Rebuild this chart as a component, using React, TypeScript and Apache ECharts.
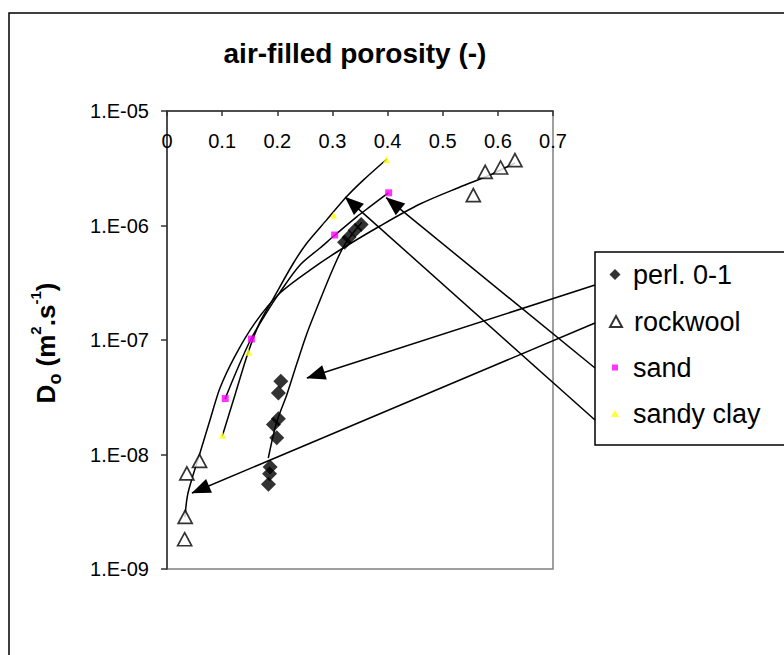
import React, { useEffect, useRef } from 'react';
import * as echarts from 'echarts';

const FONT = '"Liberation Sans", Arial, Helvetica, sans-serif';

const seriesNames = ['perl. 0-1', 'rockwool', 'sand', 'sandy clay'];
const xTickLabels = ['0', '0.1', '0.2', '0.3', '0.4', '0.5', '0.6', '0.7'];
const yTickLabels = ['1.E-09', '1.E-08', '1.E-07', '1.E-06', '1.E-05'];

// measured points [air-filled porosity, Do]
const perlPoints: [number, number][] = [
  [0.352, 1.02e-6], [0.341, 9.1e-7], [0.33, 7.9e-7], [0.322, 7.15e-7],
  [0.2064, 4.36e-8], [0.202, 3.45e-8], [0.202, 2.05e-8], [0.193, 1.83e-8],
  [0.199, 1.4e-8], [0.187, 7.76e-9], [0.186, 6.8e-9], [0.184, 5.5e-9],
];
const rockwoolPoints: [number, number][] = [
  [0.059, 8.8e-9], [0.036, 6.85e-9], [0.033, 2.85e-9], [0.032, 1.82e-9],
  [0.5555, 1.84e-6], [0.577, 2.94e-6], [0.605, 3.21e-6], [0.631, 3.72e-6],
];
const sandPoints: [number, number][] = [
  [0.1056, 3.08e-8], [0.153, 1.02e-7], [0.304, 8.26e-7], [0.402, 1.93e-6],
];
const sandyClayPoints: [number, number][] = [
  [0.1007, 1.47e-8], [0.148, 7.8e-8], [0.302, 1.23e-6], [0.398, 3.77e-6],
];

// fitted curves
const perlCurve: [number, number][] = [
  [0.1837, 9.31e-9], [0.1989, 1.92e-8], [0.2171, 3.31e-8], [0.2352, 6.17e-8],
  [0.2534, 1.13e-7], [0.2775, 2.23e-7], [0.3016, 4.26e-7], [0.3228, 6.89e-7],
  [0.3536, 1.07e-6],
];
const rockwoolCurve: [number, number][] = [
  [0.0326, 2.84e-9], [0.0381, 4.61e-9], [0.0598, 1.03e-8], [0.078, 2.0e-8],
  [0.0961, 3.81e-8], [0.1233, 7.24e-8], [0.1596, 1.41e-7], [0.2049, 2.57e-7],
  [0.2593, 4.08e-7], [0.3137, 6.11e-7], [0.3863, 9.9e-7], [0.4588, 1.54e-6],
  [0.5314, 2.17e-6], [0.5858, 2.76e-6], [0.6311, 3.52e-6],
];
const sandCurve: [number, number][] = [
  [0.1052, 3.05e-8], [0.1269, 5.47e-8], [0.1523, 1.02e-7], [0.1777, 1.65e-7],
  [0.2049, 2.62e-7], [0.2412, 4.52e-7], [0.2775, 6.36e-7], [0.3047, 8.26e-7],
  [0.344, 1.19e-6], [0.3682, 1.46e-6], [0.4013, 1.93e-6],
];
const sandyClayCurve: [number, number][] = [
  [0.1003, 1.45e-8], [0.1233, 3.31e-8], [0.1474, 7.85e-8], [0.1687, 1.44e-7],
  [0.1922, 2.28e-7], [0.2291, 4.68e-7], [0.2534, 7.0e-7], [0.2896, 1.12e-6],
  [0.3259, 1.79e-6], [0.356, 2.49e-6], [0.3984, 3.79e-6],
];

// annotation arrows: data targets for each legend entry
const arrowTargets: [number, number][] = [
  [0.2537, 4.65e-8], [0.0453, 4.61e-9], [0.3974, 1.75e-6], [0.3231, 1.77e-6],
];

export default function App() {
  const ref = useRef<HTMLDivElement>(null);
  useEffect(() => {
    const chart = echarts.init(ref.current!, null, { renderer: 'svg' });

    const legendRows = [275, 322, 368, 414];
    const arrowStartY = [285, 323, 368, 420];
    const iconSizes = [[11, 11], [12, 11], [6, 6], [8, 7]];

    const curveSeries = [perlCurve, rockwoolCurve, sandCurve, sandyClayCurve].map((c, i) => ({
      name: seriesNames[i] + ' curve',
      type: 'line',
      data: c,
      smooth: 0.3,
      symbol: 'none',
      showSymbol: false,
      silent: true,
      z: 2,
      lineStyle: { color: '#000', width: 1.5 },
      ...(i === 0
        ? {
            markLine: {
              silent: true,
              animation: false,
              symbol: ['none', 'triangle'],
              symbolSize: [15, 19],
              symbolOffset: [[0, 0], [0, 9]],
              label: { show: false },
              lineStyle: { color: '#000', width: 1.5, type: 'solid' },
              itemStyle: { color: '#000' },
              data: arrowTargets.map((t, k) => [
                { x: 595, y: arrowStartY[k] },
                { coord: t },
              ]),
            },
          }
        : {}),
    }));

    const scatterSeries = [
      {
        name: seriesNames[0], type: 'scatter', data: perlPoints, symbol: 'diamond', symbolSize: 15,
        itemStyle: { color: '#000' }, z: 4,
      },
      {
        name: seriesNames[1], type: 'scatter', data: rockwoolPoints, symbol: 'triangle', symbolSize: [14, 13],
        itemStyle: { color: '#fff', borderColor: '#000', borderWidth: 1.7 }, z: 4,
      },
      {
        name: seriesNames[2], type: 'scatter', data: sandPoints, symbol: 'rect', symbolSize: 7,
        itemStyle: { color: '#FF00FF' }, z: 4,
      },
      {
        name: seriesNames[3], type: 'scatter', data: sandyClayPoints, symbol: 'triangle', symbolSize: 7,
        itemStyle: { color: '#FFFF00' }, z: 4,
      },
    ];

    const option: any = {
      animation: false,
      backgroundColor: '#fff',
      textStyle: { fontFamily: FONT },
      title: {
        text: 'air-filled porosity (-)',
        left: 350,
        top: 34,
        textAlign: 'center',
        textStyle: { fontSize: 28, fontWeight: 'bold', fontFamily: FONT, color: '#000' },
      },
      grid: {
        left: 167, top: 111, width: 386, height: 458,
        show: true, borderColor: '#808080', borderWidth: 1.5, backgroundColor: '#fff',
      },
      xAxis: {
        type: 'value',
        position: 'top',
        min: 0, max: 0.7, interval: 0.1,
        axisLine: { show: true, onZero: false, lineStyle: { color: '#333', width: 1.5 } },
        axisTick: { show: true, inside: true, length: 5, lineStyle: { color: '#333', width: 1.5 } },
        axisLabel: {
          inside: true, margin: 20, fontSize: 20, color: '#000', fontFamily: FONT,
          showMaxLabel: true, showMinLabel: true,
          formatter: (v: number) => xTickLabels[Math.round(v * 10)] ?? '',
        },
        splitLine: { show: false },
      },
      yAxis: {
        type: 'log',
        logBase: 10,
        min: 1e-9, max: 1e-5,
        axisLine: { show: true, onZero: false, lineStyle: { color: '#333', width: 1.5 } },
        axisTick: { show: true, length: 6, lineStyle: { color: '#333', width: 1.5 } },
        axisLabel: {
          margin: 18, fontSize: 20, color: '#000', fontFamily: FONT,
          formatter: (v: number) => yTickLabels[Math.round(Math.log10(v)) + 9] ?? '',
        },
        splitLine: { show: false },
        minorTick: { show: false },
        name: '{d|D}{o|o}{t| (m}{s|2}{t|.s}{s|-1}{t|)}',
        nameLocation: 'middle',
        nameRotate: 90,
        nameGap: 103,
        nameTextStyle: {
          color: '#000',
          padding: [0, 6, 0, 0],
          rich: {
            d: { fontSize: 26, fontWeight: 'bold', fontFamily: FONT, lineHeight: 36, color: '#000' },
            t: { fontSize: 26, fontWeight: 'bold', fontFamily: FONT, lineHeight: 36, color: '#000' },
            o: { fontSize: 18, fontWeight: 'bold', fontFamily: FONT, lineHeight: 14, verticalAlign: 'bottom', color: '#000' },
            s: { fontSize: 15, fontWeight: 'bold', fontFamily: FONT, lineHeight: 22, verticalAlign: 'top', color: '#000' },
          },
        },
      },
      legend: seriesNames.map((name, i) => {
        const [w, h] = iconSizes[i];
        const left = 615 - w / 2;
        return {
          data: [name],
          orient: 'vertical',
          left,
          top: legendRows[i] - 14,
          itemWidth: w,
          itemHeight: h,
          padding: 0,
          selectedMode: false,
          z: 10,
          textStyle: {
            fontSize: 27, color: '#000', fontFamily: FONT,
            padding: [0, 0, 0, 633 - (left + w + 5)],
          },
        };
      }),
      graphic: [
        {
          type: 'rect', silent: true, z: -10,
          shape: { x: 9, y: 13, width: 820, height: 700 },
          style: { fill: 'none', stroke: '#000', lineWidth: 1.5 },
        },
        {
          type: 'rect', silent: true, z: 1,
          shape: { x: 595, y: 252, width: 260, height: 193 },
          style: { fill: '#fff', stroke: '#000', lineWidth: 1.5 },
        },
      ],
      series: [...curveSeries, ...scatterSeries],
    };

    chart.setOption(option);
    return () => chart.dispose();
  }, []);

  return (
    <div
      ref={ref}
      style={{ position: 'fixed', left: 0, top: 0, width: 784, height: 655, background: '#fff' }}
    />
  );
}
